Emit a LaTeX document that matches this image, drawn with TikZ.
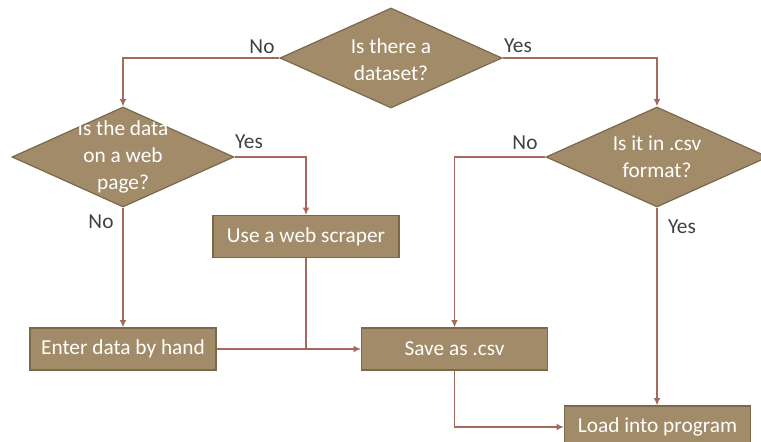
\documentclass[tikz,border=0pt]{standalone}
\usepackage{fontspec}
\setmainfont{Carlito}
\usetikzlibrary{shapes.geometric,arrows.meta}

\definecolor{boxfill}{RGB}{161,139,105}
\definecolor{boxline}{RGB}{122,105,76}
\definecolor{flowline}{RGB}{165,105,92}
\definecolor{answertext}{RGB}{64,64,64}

\tikzset{
  decision/.style={diamond,draw=boxline,fill=boxfill,line width=0.9pt,minimum width=166.5pt,minimum height=75pt,inner sep=0pt},
  qtext/.style={align=center,text=white,font=\fontsize{16}{20.5}\selectfont},
  process/.style={rectangle,draw=boxline,fill=boxfill,line width=0.9pt,minimum width=139.5pt,minimum height=31.5pt,text=white,font=\fontsize{16}{19.5}\selectfont},
  answer/.style={text=answertext,inner sep=0pt,font=\fontsize{16}{19.5}\selectfont},
  flow/.style={draw=flowline,line width=1pt,-{Latex[length=5.5pt,width=5pt]}}
}

\begin{document}
\begin{tikzpicture}[x=0.75pt,y=-0.75pt]
\useasboundingbox (0,0) rectangle (761,442);

    \node[decision] (dataset) at (391,58) {};
    \node[qtext] (datasettxt) at (391,60) {Is there a\\dataset?};

    \node[decision] (webpage) at (123,157) {};
    \node[qtext] (webpagetxt) at (webpage.center) {Is the data\\on a web\\page?};

    \node[decision] (csvfmt) at (657,157) {};
    \node[qtext] (csvfmttxt) at (csvfmt.center) {Is it in .csv\\format?};

    \node[process] (scraper) at (306,236.5) {Use a web scraper};
    \node[process] (byhand) at (123,349) {Enter data by hand};
    \node[process] (saveas) at (454.5,349) {Save as .csv};
    \node[process] (load) at (657.5,427) {Load into program};

% answers next to the branches
    \node[answer] (datasetno) at (262,47) {No};
    \node[answer] (datasetyes) at (518,46) {Yes};
    \node[answer] (webpageyes) at (249,142) {Yes};
    \node[answer] (webpageno) at (101,222) {No};
    \node[answer] (csvfmtno) at (525,143) {No};
    \node[answer] (csvfmtyes) at (682,227) {Yes};

    \coordinate (merge) at (scraper.south |- saveas.west);

 \draw[flow] (dataset.west) -| (webpage.north);
 \draw[flow] (dataset.east) -| (csvfmt.north);

 \draw[flow] (webpage.east) -| (scraper.north);
 \draw[flow] (webpage.south) -- (byhand.north);

 \draw[flow] (csvfmt.west) -| (saveas.north);
 \draw[flow] (csvfmt.south) -- (csvfmt.south |- load.north);

 \draw[flow] (byhand.east) -- (saveas.west);
 \draw[flowline,line width=1pt] (scraper.south) -- (merge);

 \draw[flow] (saveas.south) |- (load.west);

\end{tikzpicture}
\end{document}
